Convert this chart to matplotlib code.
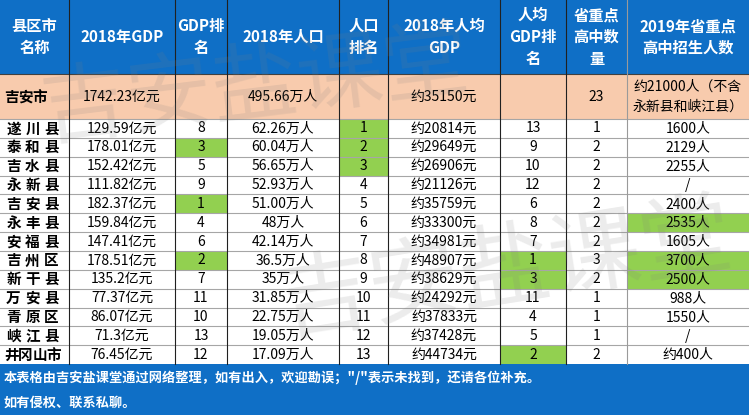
import matplotlib
matplotlib.use('Agg')
import matplotlib.pyplot as plt
from matplotlib.patches import Rectangle

plt.rcParams['font.family'] = ['Noto Sans CJK SC', 'DejaVu Sans']

# table data
headers = ['县区市\n名称', '2018年GDP', 'GDP排\n名', '2018年人口', '人口\n排名',
           '2018年人均\nGDP', '人均\nGDP排\n名', '省重点\n高中数\n量', '2019年省重点\n高中招生人数']
city_row = ['吉安市', '1742.23亿元', '', '495.66万人', '', '约35150元', '', '23',
            '约21000人（不含\n永新县和峡江县）']

names = ['遂川县', '泰和县', '吉水县', '永新县', '吉安县', '永丰县', '安福县',
         '吉州区', '新干县', '万安县', '青原区', '峡江县', '井冈山市']
gdp = ['129.59', '178.01', '152.42', '111.82', '182.37', '159.84', '147.41',
       '178.51', '135.2', '77.37', '86.07', '71.3', '76.45']
gdp_rank = [8, 3, 5, 9, 1, 4, 6, 2, 7, 11, 10, 13, 12]
pop = ['62.26', '60.04', '56.65', '52.93', '51.00', '48', '42.14',
       '36.5', '35', '31.85', '22.75', '19.05', '17.09']
pop_rank = [1, 2, 3, 4, 5, 6, 7, 8, 9, 10, 11, 12, 13]
per_gdp = [20814, 29649, 26906, 21126, 35759, 33300, 34981, 48907, 38629, 24292, 37833, 37428, 44734]
per_rank = [13, 9, 10, 12, 6, 8, 7, 1, 3, 11, 4, 5, 2]
schools = [1, 2, 2, 2, 2, 2, 2, 3, 2, 1, 1, 1, 2]
enroll = ['1600人', '2129人', '2255人', '/', '2400人', '2535人', '1605人',
          '3700人', '2500人', '988人', '1550人', '/', '约400人']

footer = ['本表格由吉安盐课堂通过网络整理，如有出入，欢迎勘误；"/"表示未找到，还请各位补充。',
          '如有侵权、联系私聊。']

BLUE = '#0f6fc6'
PEACH = '#f8cbad'
GREEN = '#92d050'

# layout in pixels
W, H = 749, 415
col_x = [0, 69, 175, 227, 339, 388, 500, 566, 627, 749]
head_h = 74
city_h = 45
row_h = 18.85
top_rows = head_h + city_h
foot_top = top_rows + row_h * len(names)

fig = plt.figure(figsize=(W / 100, H / 100), dpi=100)
ax = fig.add_axes([0, 0, 1, 1])
ax.set_xlim(0, W)
ax.set_ylim(H, 0)
ax.axis('off')


def spread_text(s, x0, x1, y, **kw):
    # distributed alignment, like the excel cells
    step = (x1 - x0) / len(s)
    for k, ch in enumerate(s):
        ax.text(x0 + step * (k + 0.5), y, ch, ha='center', va='center', **kw)


# top-3 by value for enrolment
enroll_vals = [int(e.replace('约', '').replace('人', '')) if e != '/' else -1 for e in enroll]
enroll_top = sorted(enroll_vals, reverse=True)[:3]

# header
ax.add_patch(Rectangle((0, 0), W, head_h, color=BLUE, lw=0))
for j, h in enumerate(headers):
    cx = (col_x[j] + col_x[j + 1]) / 2
    ax.text(cx, head_h / 2, h, color='white', fontsize=11, fontweight='bold',
            ha='center', va='center', linespacing=1.45)

# city summary row
ax.add_patch(Rectangle((0, head_h), W, city_h, color=PEACH, lw=0))
for j, v in enumerate(city_row):
    cy = head_h + city_h / 2
    if j == 0:
        spread_text(v, 4, 47, cy, fontsize=10.5, fontweight='bold')
    else:
        cx = (col_x[j] + col_x[j + 1]) / 2
        ax.text(cx, cy, v, fontsize=10, ha='center', va='center', linespacing=1.5)

# data rows
for i in range(len(names)):
    y0 = top_rows + i * row_h
    cy = y0 + row_h / 2
    cells = [names[i], gdp[i] + '亿元', str(gdp_rank[i]), pop[i] + '万人', str(pop_rank[i]),
             '约%d元' % per_gdp[i], str(per_rank[i]), str(schools[i]), enroll[i]]
    hl = [False, False, gdp_rank[i] <= 3, False, pop_rank[i] <= 3, False,
          per_rank[i] <= 3, False, enroll_vals[i] in enroll_top]
    for j, v in enumerate(cells):
        if hl[j]:
            ax.add_patch(Rectangle((col_x[j], y0), col_x[j + 1] - col_x[j], row_h,
                                   color=GREEN, lw=0))
        if j == 0:
            spread_text(v, 4, 61, cy, fontsize=10.5, fontweight='bold')
        else:
            cx = (col_x[j] + col_x[j + 1]) / 2
            ax.text(cx, cy, v, fontsize=10, ha='center', va='center')
    ax.plot([0, W], [y0, y0], color='#a6a6a6', lw=0.8)

# grid lines
ax.plot([0, W], [head_h, head_h], color='#404040', lw=0.8)
for j, x in enumerate(col_x[1:-1]):
    c = '#9a9a9a' if j == 7 else '#202020'
    ax.plot([x, x], [0, foot_top], color=c, lw=0.8)

# footer
ax.add_patch(Rectangle((0, foot_top), W, H - foot_top, color=BLUE, lw=0))
ax.text(4, foot_top + 14, footer[0], color='white', fontsize=9.5, fontweight='bold',
        ha='left', va='center')
ax.text(4, foot_top + 39, footer[1], color='white', fontsize=9.5, fontweight='bold',
        ha='left', va='center')

# watermarks
ax.text(255, 88, '吉安盐课堂', fontsize=62, color='#7f7f7f', alpha=0.15,
        ha='center', va='center', rotation=7, zorder=10)
ax.text(505, 272, '吉安盐课堂', fontsize=66, color='#7f7f7f', alpha=0.15,
        ha='center', va='center', rotation=9, zorder=10)

fig.savefig('out.png', dpi=100)
